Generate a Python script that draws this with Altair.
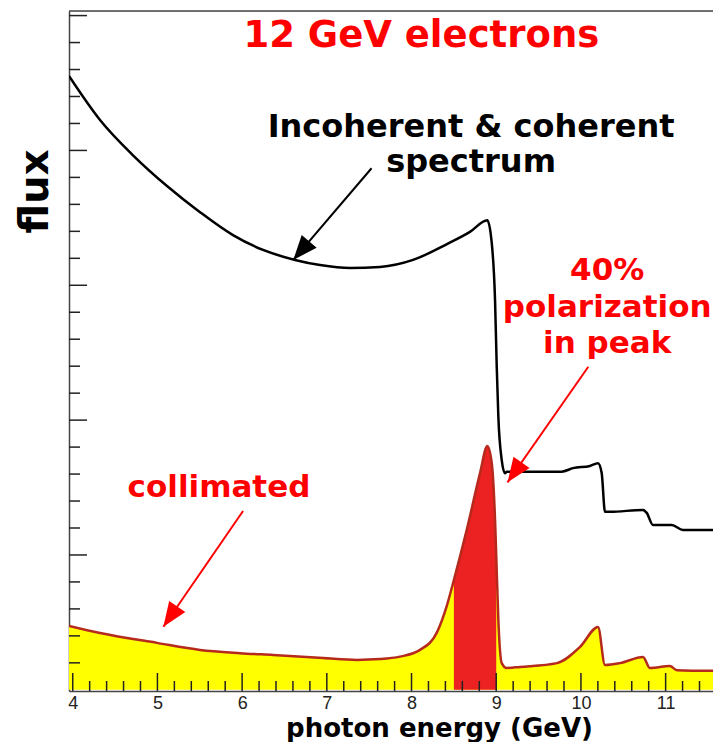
import math
import altair as alt
import pandas as pd

# ---------------- data ----------------
# incoherent & coherent spectrum (black curve)
total_e = [3.956, 4.322, 4.712, 5.113, 5.503, 5.892, 6.247, 6.625, 6.920, 7.274, 7.628,
           8.018, 8.419, 8.690, 8.895, 8.947, 8.986, 9.006, 9.025, 9.065, 9.104, 9.124,
           9.773, 9.907, 10.107, 10.202, 10.245, 10.284, 10.343, 10.733, 10.777, 10.851,
           11.072, 11.205, 11.559, 11.654]
total_flux = [22.76, 21.13, 19.82, 18.68, 17.71, 16.86, 16.31, 15.94, 15.75, 15.64, 15.68,
              15.94, 16.53, 16.98, 17.41, 16.57, 14.45, 11.98, 10.13, 8.52, 8.03, 8.09,
              8.09, 8.22, 8.30, 8.40, 8.04, 6.60, 6.60, 6.67, 6.56, 6.11,
              6.11, 5.93, 5.93, 6.00]

# collimated spectrum (yellow / red filled curve)
coll_e = [3.956, 4.322, 4.995, 5.503, 5.975, 6.365, 6.955, 7.357, 7.628, 7.864,
          8.100, 8.297, 8.419, 8.5, 8.652, 8.809, 8.895, 8.947, 8.986, 9.0, 9.025,
          9.065, 9.124, 9.281, 9.718, 9.990, 10.202, 10.284, 10.461, 10.733, 10.815,
          11.051, 11.133, 11.654]
coll_flux = [2.37, 2.11, 1.74, 1.48, 1.36, 1.29, 1.18, 1.11, 1.14, 1.23,
             1.48, 2.11, 3.14, 4.07, 5.93, 8.04, 9.04, 8.41, 6.30, 5.0, 2.59,
             0.99, 0.81, 0.85, 0.99, 1.59, 2.33, 0.92, 0.99, 1.22, 0.81,
             0.88, 0.73, 0.70]

# coherent peak region (red)
peak_range = [8.5, 9.0]

# axis ticks
x_tick_labels = [4, 5, 6, 7, 8, 9, 10, 11]
x_minor_ticks = [round(4 + 0.2 * i, 1) for i in range(38) if i % 5 != 0]
y_major_ticks = [5, 10, 15, 20, 25]
y_minor_ticks = [i for i in range(1, 25) if i % 5 != 0]

# annotations
label_text = ["12 GeV electrons", "Incoherent & coherent", "spectrum",
              "40%", "polarization", "in peak", "collimated"]
label_e = [8.116, 8.703, 8.703, 10.31, 10.31, 10.31, 5.727]
label_v = [23.84, 20.50, 19.21, 15.19, 13.83, 12.49, 7.15]
label_size = [37, 32, 32, 31, 31, 31, 31]
label_color = ["#ff0000", "#000000", "#000000", "#ff0000", "#ff0000", "#ff0000", "#ff0000"]

arrow_start_e = [7.528, 10.087, 6.011]
arrow_start_v = [19.34, 11.98, 6.63]
arrow_tip_e = [6.604, 9.133, 5.070]
arrow_tip_v = [15.94, 7.69, 2.34]
arrow_color = ["#000000", "#ff0000", "#ff0000"]

# ---------------- layout ----------------
W, H = 644, 680
PX_PER_GEV = 84.7
X_DOMAIN = [3.956, 3.956 + W / PX_PER_GEV]
Y_DOMAIN = [-0.044, 25.17]
px_e = W / (X_DOMAIN[1] - X_DOMAIN[0])
px_v = H / (Y_DOMAIN[1] - Y_DOMAIN[0])

xscale = alt.Scale(domain=X_DOMAIN, nice=False, zero=False)
yscale = alt.Scale(domain=Y_DOMAIN, nice=False, zero=False)

x_axis = alt.Axis(values=x_tick_labels, grid=False, ticks=False, labelPadding=3,
                  labelFont="Liberation Sans", labelFontSize=18, labelColor="#222222",
                  domainColor="#444444", domainWidth=1.5,
                  title="photon energy (GeV)", titleFont="DejaVu Sans", titleFontWeight="bold",
                  titleFontSize=26, titleColor="#000000", titleX=370, titleY=45,
                  titleBaseline="alphabetic", titleAlign="center")
y_axis = alt.Axis(grid=False, ticks=False, labels=False,
                  domainColor="#444444", domainWidth=1.5,
                  title="flux", titleFont="DejaVu Sans", titleFontWeight="bold",
                  titleFontSize=40, titleColor="#000000", titleAngle=270,
                  titleX=-22, titleY=180, titleBaseline="alphabetic", titleAlign="center")


def X(field):
    return alt.X(f"{field}:Q", scale=xscale, axis=x_axis)


def Y(field):
    return alt.Y(f"{field}:Q", scale=yscale, axis=y_axis)


df_total = pd.DataFrame({"E": total_e, "flux": total_flux})
df_coll = pd.DataFrame({"E": coll_e, "flux": coll_flux})
df_peak = df_coll[(df_coll.E >= peak_range[0]) & (df_coll.E <= peak_range[1])]

yellow = alt.Chart(df_coll).mark_area(color="#ffff00", opacity=1, clip=True,
                                      interpolate="monotone").encode(
    x=X("E"), y=Y("flux"), y2=alt.value(H))
red = alt.Chart(df_peak).mark_area(color="#ec2222", opacity=1, clip=True,
                                   interpolate="monotone").encode(
    x=X("E"), y=Y("flux"), y2=alt.value(H))
coll_line = alt.Chart(df_coll).mark_line(color="#b52a1c", strokeWidth=2.5, clip=True,
                                         interpolate="monotone").encode(
    x=X("E"), y=Y("flux"))
total_line = alt.Chart(df_total).mark_line(color="#000000", strokeWidth=2.5, clip=True,
                                           interpolate="monotone").encode(
    x=X("E"), y=Y("flux"))

xmaj = alt.Chart(pd.DataFrame({"E": x_tick_labels})).mark_rule(color="#222222", strokeWidth=1.5).encode(
    x=X("E"), y=alt.value(H), y2=alt.value(H - 18))
xmin = alt.Chart(pd.DataFrame({"E": x_minor_ticks})).mark_rule(color="#222222", strokeWidth=1.5,
                                                                clip=True).encode(
    x=X("E"), y=alt.value(H), y2=alt.value(H - 10))
ymaj = alt.Chart(pd.DataFrame({"v": y_major_ticks})).mark_rule(color="#222222", strokeWidth=1.5).encode(
    y=Y("v"), x=alt.value(0), x2=alt.value(18))
ymin = alt.Chart(pd.DataFrame({"v": y_minor_ticks})).mark_rule(color="#222222", strokeWidth=1.5).encode(
    y=Y("v"), x=alt.value(0), x2=alt.value(11))
top_frame = alt.Chart(pd.DataFrame({"a": [0]})).mark_rule(color="#444444", strokeWidth=1.5).encode(
    x=alt.value(0), x2=alt.value(W), y=alt.value(0))

df_lab = pd.DataFrame({"text": label_text, "E": label_e, "v": label_v,
                       "size": label_size, "color": label_color})
labels = alt.Chart(df_lab).mark_text(font="DejaVu Sans", fontWeight="bold",
                                     baseline="alphabetic", align="center").encode(
    x=X("E"), y=Y("v"), text="text:N",
    size=alt.Size("size:Q", scale=None, legend=None),
    color=alt.Color("color:N", scale=None, legend=None))

angles = []
for e0, v0, e1, v1 in zip(arrow_start_e, arrow_start_v, arrow_tip_e, arrow_tip_v):
    dx = (e1 - e0) * px_e
    dy = -(v1 - v0) * px_v
    angles.append(math.degrees(math.atan2(dx, -dy)) % 360)

df_arr = pd.DataFrame({"e0": arrow_start_e, "v0": arrow_start_v,
                       "e1": arrow_tip_e, "v1": arrow_tip_v,
                       "color": arrow_color, "ang": angles})
shafts = alt.Chart(df_arr).mark_rule(strokeWidth=2).encode(
    x=X("e0"), y=Y("v0"), x2="e1:Q", y2="v1:Q",
    color=alt.Color("color:N", scale=None, legend=None))
heads = alt.Chart(df_arr).mark_point(shape="M0,0L-0.4,1L0.4,1Z", filled=True, size=2400,
                                     opacity=1, strokeWidth=0).encode(
    x=X("e1"), y=Y("v1"),
    angle=alt.Angle("ang:Q", scale=None),
    color=alt.Color("color:N", scale=None, legend=None))

chart = alt.layer(yellow, red, coll_line, total_line, xmin, xmaj, ymin, ymaj, top_frame,
                  labels, shafts, heads).properties(
    width=W, height=H,
    autosize=alt.AutoSizeParams(type="none"),
    padding={"left": 61, "top": 3, "right": 0, "bottom": 51},
).configure_view(stroke=None).configure(background="white")

chart.save("out.html", embed_options={"renderer": "svg", "actions": False})
